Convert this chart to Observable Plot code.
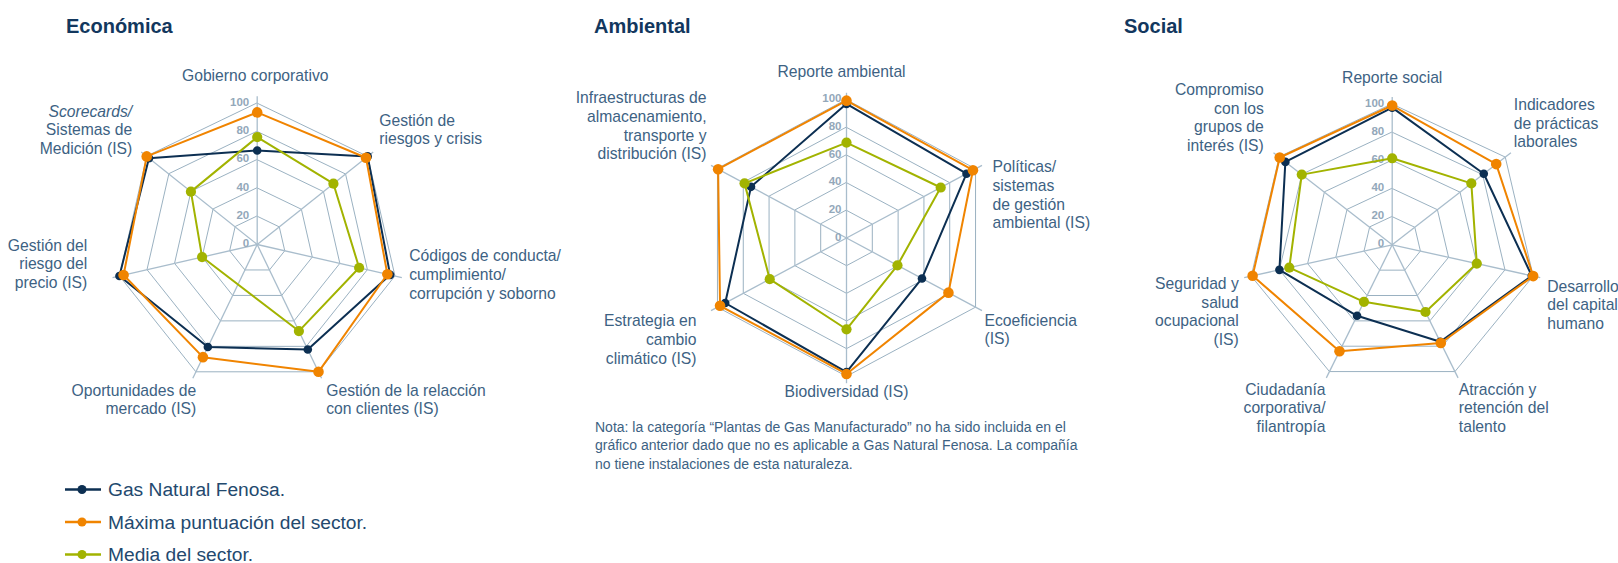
<!DOCTYPE html>
<html>
<head>
<meta charset="utf-8">
<script src="https://cdn.jsdelivr.net/npm/d3@7"></script>
<script src="https://cdn.jsdelivr.net/npm/@observablehq/plot@0.6"></script>
<style>
  html, body { margin: 0; padding: 0; background: #ffffff; }
  #page { position: relative; width: 1618px; height: 563px; overflow: hidden; background: #ffffff;
          font-family: "Liberation Sans", Arial, sans-serif; }
  .chart { position: absolute; top: 0; }
  #overlay { position: absolute; left: 0; top: 0; }
</style>
</head>
<body>
<div id="page">
  <svg id="overlay" width="1618" height="563"></svg>
  <div id="econ" class="chart" style="left:0px"></div>
  <div id="amb" class="chart" style="left:560px"></div>
  <div id="soc" class="chart" style="left:1100px"></div>
</div>
<script>
// ---------------- DATA ----------------
const seriesNames = ["Gas Natural Fenosa.", "Máxima puntuación del sector.", "Media del sector."];
const panelTitles = ["Económica", "Ambiental", "Social"];
const tickValues = [0, 20, 40, 60, 80, 100];

const econAxes = ["Gobierno corporativo", "Gestión de\nriesgos y crisis", "Códigos de conducta/\ncumplimiento/\ncorrupción y soborno",
  "Gestión de la relacción\ncon clientes (IS)", "Oportunidades de\nmercado (IS)", "Gestión del\nriesgo del\nprecio (IS)",
  "*Scorecards/\nSistemas de\nMedición (IS)"];
const econGNF   = [66.5, 100, 96.5, 82.5, 80.5, 100, 98];
const econMax   = [93.5, 98.5, 94.5, 100, 88.5, 97, 100];
const econMedia = [76, 69, 74, 68, null, 40, 60];

const ambAxes = ["Reporte ambiental", "Políticas/\nsistemas\nde gestión\nambiental (IS)", "Ecoeficiencia\n(IS)", "Biodiversidad (IS)",
  "Estrategia en\ncambio\nclimático (IS)", "Infraestructuras de\nalmacenamiento,\ntransporte y\ndistribución (IS)"];
const ambGNF   = [97, 93, 58.5, 97, 94, 74];
const ambMax   = [99.3, 98, 79, 98.3, 98, 99.5];
const ambMedia = [69, 73, 39.5, 66, 59.5, 79];

const socAxes = ["Reporte social", "Indicadores\nde prácticas\nlaborales", "Desarrollo\ndel capital\nhumano", "Atracción y\nretención del\ntalento",
  "Ciudadanía\ncorporativa/\nfilantropía", "Seguridad y\nsalud\nocupacional\n(IS)", "Compromiso\ncon los\ngrupos de\ninterés (IS)"];
const socGNF   = [97.5, 81, 99, 76.5, 56, 80, 94.5];
const socMax   = [99, 92, 100, 77.5, 84, 99, 99.5];
const socMedia = [61.5, 70, 60, 53, 45, 73, 80];

const noteLines = [
  "Nota: la categoría “Plantas de Gas Manufacturado” no ha sido incluida en el",
  "gráfico anterior dado que no es aplicable a Gas Natural Fenosa. La compañía",
  "no tiene instalaciones de esta naturaleza."
];

// ---------------- STYLE / LAYOUT ----------------
const colors = ["#0c2f52", "#f08400", "#a2b300"];
const dotR = [4.3, 5.3, 5.1];
const drawOrder = [0, 2, 1];
const labelColor = "#3d6283";
const ringColor = "#8fa8ba";
const spokeColor = "#a9bdcc";
const tickColor = "#93a8ba";
const fontFamily = "'Liberation Sans', Arial, sans-serif";
const labelSize = 15.7;
const lineGap = 18.8;

const layouts = {
  econ: { width: 560, height: 440, cx: 256.7, cy: 244, kx: 1.413, ky: 1.413, tickDx: -8,
          labels: [[-2, -169, "middle"], [122, -124, "start"], [152, 11.7, "start"], [69, 146, "start"],
                   [-61, 146, "end"], [-170, 1, "end"], [-125, -133, "end"]] },
  amb:  { width: 540, height: 440, cx: 286, cy: 237.5, kx: 1.49, ky: 1.383, tickDx: -5,
          labels: [[-5, -166, "middle"], [146, -71, "start"], [138, 82.5, "start"], [0, 154, "middle"],
                   [-150, 83, "end"], [-140, -140, "end"]] },
  soc:  { width: 518, height: 440, cx: 291.7, cy: 244.3, kx: 1.446, ky: 1.407, tickDx: -8,
          labels: [[0, -167, "middle"], [121.6, -140, "start"], [155, 41.7, "start"], [66.6, 144.7, "start"],
                   [-66.7, 144.7, "end"], [-153.4, 39, "end"], [-128.4, -155, "end"]] }
};

function radar(axes, values, L) {
  const n = axes.length;
  const ang = i => 2 * Math.PI * i / n;
  const px = (v, i) => v * Math.sin(ang(i));
  const py = (v, i) => v * Math.cos(ang(i));
  const rings = [20, 40, 60, 80, 100].flatMap(level => axes.map((a, i) => ({level, x: px(level, i), y: py(level, i)})));
  const spokes = axes.map((a, i) => ({x2: px(105, i), y2: py(105, i)}));

  const lab = [];
  axes.forEach((name, i) => {
    const [ox, oy, anchor] = L.labels[i];
    name.split("\n").forEach((line, j) => {
      const italic = line.startsWith("*");
      lab.push({text: italic ? line.slice(1) : line, italic, anchor,
                x: ox / L.kx, y: -(oy + j * lineGap) / L.ky});
    });
  });

  const marks = [
    Plot.line(rings, {x: "x", y: "y", z: "level", curve: "linear-closed", stroke: ringColor, strokeWidth: 0.9}),
    Plot.link(spokes, {x1: 0, y1: 0, x2: "x2", y2: "y2", stroke: spokeColor, strokeWidth: 1.3}),
    Plot.text(tickValues, {x: 0, y: d => d, text: d => String(d), textAnchor: "end", dx: L.tickDx, dy: -1,
      fill: tickColor, fontWeight: "bold", fontSize: 11.5})
  ];
  for (const s of drawOrder) {
    const pts = values[s].map((v, i) => v == null ? null : {x: px(v, i), y: py(v, i)}).filter(d => d);
    marks.push(Plot.line(pts, {x: "x", y: "y", curve: "linear-closed", stroke: colors[s], strokeWidth: 2}));
    marks.push(Plot.dot(pts, {x: "x", y: "y", r: dotR[s], fill: colors[s], stroke: "none"}));
  }
  for (const anchor of ["start", "middle", "end"]) {
    for (const italic of [false, true]) {
      const sub = lab.filter(d => d.anchor === anchor && d.italic === italic);
      if (!sub.length) continue;
      marks.push(Plot.text(sub, {x: "x", y: "y", text: "text", textAnchor: anchor, fill: labelColor,
        fontSize: labelSize, fontStyle: italic ? "italic" : "normal"}));
    }
  }
  return Plot.plot({
    width: L.width, height: L.height, margin: 0,
    x: {domain: [-L.cx / L.kx, (L.width - L.cx) / L.kx], range: [0, L.width], axis: null},
    y: {domain: [L.cy / L.ky, (L.cy - L.height) / L.ky], range: [0, L.height], axis: null},
    style: {background: "transparent", overflow: "visible", fontFamily},
    marks
  });
}

document.getElementById("econ").appendChild(radar(econAxes, [econGNF, econMax, econMedia], layouts.econ));
document.getElementById("amb").appendChild(radar(ambAxes, [ambGNF, ambMax, ambMedia], layouts.amb));
document.getElementById("soc").appendChild(radar(socAxes, [socGNF, socMax, socMedia], layouts.soc));

// ---------------- OVERLAY: titles, note, legend ----------------
const ov = d3.select("#overlay");
const titleX = [66, 594, 1124];
panelTitles.forEach((t, i) => ov.append("text").attr("x", titleX[i]).attr("y", 33.3)
  .attr("font-family", fontFamily).attr("font-size", 20).attr("font-weight", "bold").attr("fill", "#12375e").text(t));

noteLines.forEach((t, i) => ov.append("text").attr("x", 595).attr("y", 431.5 + i * 18.6)
  .attr("font-family", fontFamily).attr("font-size", 14).attr("fill", labelColor).text(t));

const legY = [489.5, 522, 554.5];
seriesNames.forEach((name, i) => {
  const g = ov.append("g");
  g.append("line").attr("x1", 65).attr("x2", 101).attr("y1", legY[i]).attr("y2", legY[i])
    .attr("stroke", colors[i]).attr("stroke-width", 2.5);
  g.append("circle").attr("cx", 82).attr("cy", legY[i]).attr("r", 4.5).attr("fill", colors[i]);
  g.append("text").attr("x", 108).attr("y", legY[i] + 6.8).attr("font-family", fontFamily)
    .attr("font-size", 19.2).attr("fill", "#23496e").text(name);
});
</script>
</body>
</html>
